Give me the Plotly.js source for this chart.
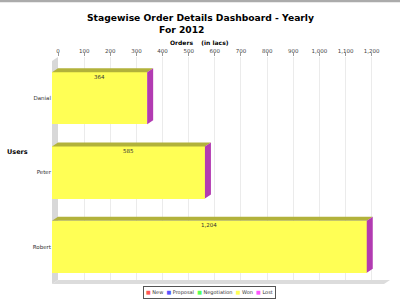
<!DOCTYPE html>
<html>
<head>
<meta charset="utf-8">
<script src="https://cdn.plot.ly/plotly-3.0.1.min.js"></script>
<style>html,body{margin:0;padding:0;background:#fff;}#chart{width:400px;height:303px;}</style>
</head>
<body>
<div id="chart"></div>
<script>
// ---- data ----
const users = ["Danial", "Peter", "Robert"];
const seriesNames = ["New", "Proposal", "Negotiation", "Won", "Lost"];
const newVals = [0, 0, 0];
const proposalVals = [0, 0, 0];
const negotiationVals = [0, 0, 0];
const wonVals = [364, 585, 1204];
const lostVals = [0, 0, 0];
const xTickVals = [0, 100, 200, 300, 400, 500, 600, 700, 800, 900, 1000, 1100, 1200];

// ---- style ----
const W = 400, H = 303;
const XMAX = 1270;
const colors = ["#FF5555", "#5555FF", "#55FF55", "#FFFF55", "#FF55FF"];
const darkColors = ["#B23B3B", "#3B3BB2", "#3BB23B", "#B2B23B", "#B23BB2"];
const front = {x0: 52, x1: 384, y0: 61, y1: 284};
const DX = 6, DY = 4;
const back = {x0: front.x0 + DX, x1: front.x1 + DX, y0: front.y0 - DY, y1: front.y1 - DY};
const BARW = 0.7;
const px = v => v / W;
const py = v => 1 - v / H;

const allSeries = [newVals, proposalVals, negotiationVals, wonVals, lostVals];
const idx = users.map((_, i) => i);

// back wall subplot (holds the value axis with its grid)
const traces = [{type: "scatter", mode: "markers", x: [0], y: [0.5], xaxis: "x", yaxis: "y",
  marker: {opacity: 0, size: 1}, showlegend: false, hoverinfo: "skip"}];

allSeries.forEach((vals, s) => {
  traces.push({
    type: "bar", orientation: "h", name: seriesNames[s],
    x: vals, y: idx, xaxis: "x2", yaxis: "y2", width: BARW,
    marker: {color: colors[s], line: {width: 0}}, showlegend: false, hoverinfo: "x+name"
  });
});

// 3D faces computed from the data through the axis scales
const dxU = DX * XMAX / (front.x1 - front.x0);
const dyU = DY * users.length / (front.y1 - front.y0);
const annotations = [];
allSeries.forEach((vals, s) => {
  const fx = [], fy = [];
  idx.forEach(i => {
    const start = allSeries.slice(0, s).reduce((a, arr) => a + arr[i], 0);
    const v = vals[i];
    if (v <= 0) return;
    const end = start + v;
    const top = i - BARW / 2;
    fx.push(start, start + dxU, end + dxU, end, start, null);
    fy.push(top, top - dyU, top - dyU, top, top, null);
    annotations.push({
      xref: "x2", yref: "y2", x: start + v / 2, y: top, yanchor: "top", xanchor: "center",
      text: v.toLocaleString("en-US"), showarrow: false, borderpad: 0, yshift: -0.5,
      font: {family: "DejaVu Sans", size: 5.5, color: "#333"}
    });
  });
  if (fx.length) {
    traces.push({type: "scatter", mode: "lines", x: fx, y: fy, xaxis: "x2", yaxis: "y2",
      fill: "toself", fillcolor: darkColors[s], line: {width: 0, color: darkColors[s]},
      showlegend: false, hoverinfo: "skip"});
  }
});
// right side face of the last stacked segment
(function () {
  const last = allSeries.length - 1;
  const fx = [], fy = [];
  idx.forEach(i => {
    const total = allSeries.reduce((a, arr) => a + arr[i], 0);
    const top = i - BARW / 2, bot = i + BARW / 2;
    fx.push(total, total + dxU, total + dxU, total, total, null);
    fy.push(top, top - dyU, bot - dyU, bot, top, null);
  });
  traces.push({type: "scatter", mode: "lines", x: fx, y: fy, xaxis: "x2", yaxis: "y2",
    fill: "toself", fillcolor: darkColors[last], line: {width: 0, color: darkColors[last]},
    showlegend: false, hoverinfo: "skip"});
})();

// text annotations
annotations.push({xref: "paper", yref: "paper", x: px(182), y: py(29.5), xanchor: "center", yanchor: "middle",
  text: "<b>For 2012</b>", showarrow: false, font: {family: "DejaVu Sans", size: 9.2, color: "#000"}});
annotations.push({xref: "paper", yref: "paper", x: px(199), y: py(42), xanchor: "center", yanchor: "middle",
  text: "<b>Orders\u00a0\u00a0\u00a0\u00a0(in lacs)</b>", showarrow: false, font: {family: "DejaVu Sans", size: 6, color: "#000"}});
annotations.push({xref: "paper", yref: "paper", x: px(17.5), y: py(152), xanchor: "center", yanchor: "middle",
  text: "<b>Users</b>", showarrow: false, font: {family: "DejaVu Sans", size: 6.5, color: "#000"}});
const legendText = seriesNames.map((n, s) =>
  "<span style='color:" + colors[s] + "'>\u25A0</span>\u00a0" + n).join("\u00a0\u00a0");
annotations.push({xref: "paper", yref: "paper", x: px(209.5), y: py(292.5), xanchor: "center", yanchor: "middle",
  text: legendText, showarrow: false, bordercolor: "#555", borderwidth: 1, borderpad: 2, bgcolor: "#fff",
  font: {family: "DejaVu Sans", size: 5, color: "#333"}});

const pathPaper = pts => "M" + pts.map(p => px(p[0]) + "," + py(p[1])).join(" L") + " Z";
const shapes = [
  {type: "rect", xref: "paper", yref: "paper", x0: 0, x1: 1, y0: py(2.3), y1: 1, fillcolor: "#ababab", line: {width: 0}},
  {type: "path", xref: "paper", yref: "paper", layer: "below", fillcolor: "#d8d8d8", line: {width: 0},
    path: pathPaper([[front.x0, front.y0], [back.x0, back.y0], [back.x0, back.y1], [front.x0, front.y1]])},
  {type: "path", xref: "paper", yref: "paper", layer: "below", fillcolor: "#dcdcdc", line: {width: 0},
    path: pathPaper([[front.x0, front.y1], [back.x0, back.y1], [back.x1, back.y1], [front.x1, front.y1]])}
];

const layout = {
  width: W, height: H, margin: {l: 0, r: 0, t: 0, b: 0},
  paper_bgcolor: "#fff", plot_bgcolor: "rgba(0,0,0,0)",
  barmode: "stack", showlegend: false,
  title: {text: "<b>Stagewise Order Details Dashboard - Yearly</b>", x: px(200.5), xanchor: "center",
    y: py(18), yanchor: "middle", xref: "paper", yref: "container",
    font: {family: "DejaVu Sans", size: 9.2, color: "#000"}},
  xaxis: {domain: [px(back.x0), px(back.x1)], anchor: "y", range: [0, XMAX], side: "top",
    tickmode: "array", tickvals: xTickVals, ticktext: xTickVals.map(v => v.toLocaleString("en-US")),
    ticks: "outside", ticklen: 3, tickcolor: "#999", ticklabelstandoff: -2,
    tickfont: {family: "DejaVu Sans", size: 5.5, color: "#444"},
    showgrid: true, gridcolor: "#ebebeb", gridwidth: 1, zeroline: false, showline: false, fixedrange: true},
  yaxis: {domain: [py(back.y1), py(back.y0)], anchor: "x", range: [0, 1], showgrid: false, zeroline: false,
    showline: false, showticklabels: false, ticks: "", fixedrange: true},
  xaxis2: {domain: [px(front.x0), px(front.x1)], anchor: "y2", range: [0, XMAX], showgrid: false, zeroline: false,
    showline: false, showticklabels: false, ticks: "", fixedrange: true},
  yaxis2: {domain: [py(front.y1), py(front.y0)], anchor: "x2", range: [users.length - 0.5, -0.5],
    tickmode: "array", tickvals: idx, ticktext: users, ticks: "", showgrid: false, zeroline: false, showline: false,
    tickfont: {family: "DejaVu Sans", size: 5.5, color: "#333"}, fixedrange: true},
  shapes: shapes, annotations: annotations
};

Plotly.newPlot("chart", traces, layout, {displayModeBar: false, staticPlot: true});
</script>
</body>
</html>
